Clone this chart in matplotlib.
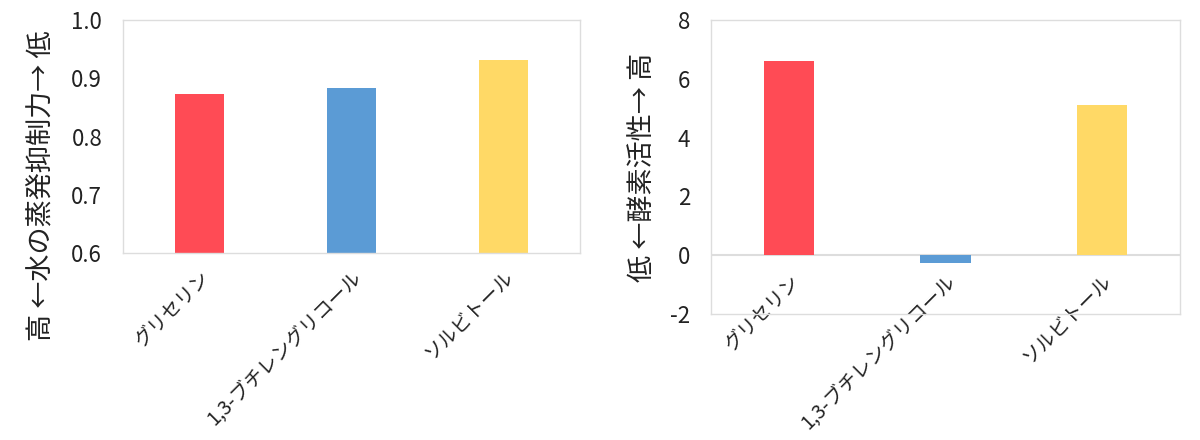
import matplotlib.pyplot as plt

plt.rcParams['font.family'] = ['Noto Sans CJK JP', 'DejaVu Sans']
plt.rcParams['axes.unicode_minus'] = False

# data
categories = ['グリセリン', '1,3-ブチレングリコール', 'ソルビトール']
evaporation = [0.873, 0.884, 0.931]
enzyme = [6.6, -0.25, 5.1]
colors = ['#FF4B55', '#5B9BD5', '#FFD966']

fig = plt.figure(figsize=(12, 4.4), dpi=100)
ax1 = fig.add_axes([123 / 1200, 1 - 253 / 440, 457 / 1200, 233 / 440])
ax2 = fig.add_axes([711 / 1200, 1 - 314 / 440, 469 / 1200, 294 / 440])

x = range(len(categories))

def style(ax):
    for s in ax.spines.values():
        s.set_color('#DDDDDD')
        s.set_linewidth(1)
    ax.tick_params(axis='both', length=0)
    ax.tick_params(axis='y', labelsize=16, colors='#222222', pad=15)
    ax.set_xticks(list(x))
    ax.set_xticklabels(categories, rotation=45, ha='right', rotation_mode='anchor',
                       fontsize=14, color='#222222')
    ax.set_xlim(-0.5, 2.5)

ax1.bar(x, evaporation, width=0.32, color=colors)
ax1.set_ylim(0.6, 1.0)
ax1.set_yticks([0.6, 0.7, 0.8, 0.9, 1.0])
ax1.set_yticklabels(['0.6', '0.7', '0.8', '0.9', '1.0'])
style(ax1)
ax1.tick_params(axis='x', pad=10)
fig.text(42 / 1200, 1 - 186 / 440, '高 ←水の蒸発抑制力→ 低', rotation=90,
         ha='center', va='center', fontsize=19.5, color='#222222')

ax2.bar(x, enzyme, width=0.32, color=colors, zorder=2)
ax2.axhline(0, color='#DDDDDD', linewidth=1.5, zorder=1)
ax2.set_ylim(-2, 8)
ax2.set_yticks([-2, 0, 2, 4, 6, 8])
style(ax2)
ax2.tick_params(axis='x', pad=-31)
fig.text(642 / 1200, 1 - 167 / 440, '低 ←酵素活性→ 高', rotation=90,
         ha='center', va='center', fontsize=19.5, color='#222222')

fig.savefig('out.png', dpi=100)
